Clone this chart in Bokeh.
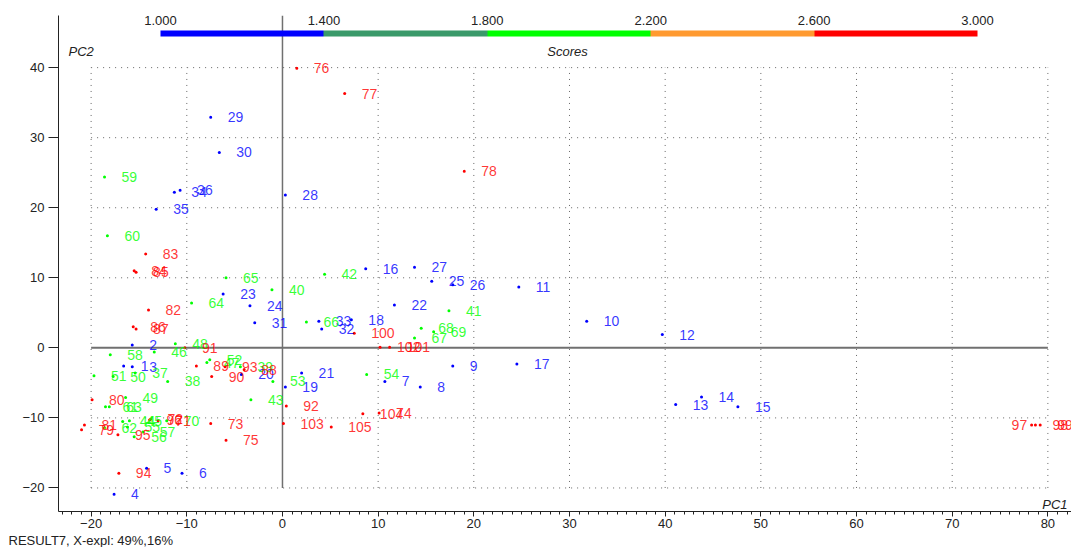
from bokeh.plotting import figure
from bokeh.models import (ColumnDataSource, LinearColorMapper, ColorBar, FixedTicker,
                          PrintfTickFormatter, Label, Title, Range1d)
from bokeh.core.properties import value
from bokeh.transform import linear_cmap
from bokeh.embed import file_html
from bokeh.resources import INLINE

# Sample numbers, PCA scores (PC1, PC2) and the response score used for colouring
ids = list(range(1, 106))
pc1 = [-16.6, -15.7, -15.7, -17.6, -14.2, -10.5, 10.7, 14.4, 17.8, 31.8,
       24.7, 39.7, 41.1, 43.8, 47.6, 8.7, 24.5, 7.2, 0.3, -4.3,
       2.0, 11.7, -6.2, -3.4, 15.6, 17.8, 13.8, 0.3, -7.5, -6.6,
       -2.9, 4.1, 3.8, -11.3, -13.2, -10.7, -15.4, -12.0, -4.4, -1.1,
       17.4, 4.4, -3.3, -16.7, -16.0, -13.4, -7.9, -11.2, -16.4, -17.7,
       -19.7, -7.6, -1.0, 8.8, -16.2, -15.5, -14.6, -18.0, -18.6, -18.3,
       -18.5, -18.6, -18.1, -9.5, -5.9, 2.5, 13.8, 14.5, 15.8, -12.1,
       -13.0, -13.8, -7.5, 10.1, -5.9, 1.5, 6.5, 19.0, -21.0, -19.9,
       -20.7, -14.0, -14.3, -15.5, -15.3, -15.6, -15.3, -4.0, -9.0, -7.4,
       -10.2, 0.4, -6.0, -17.1, -17.2, -13.9, 78.3, 78.7, 79.2, 7.5,
       11.2, 10.2, 0.1, 8.4, 5.1]
pc2 = [-2.6, 0.4, -2.7, -20.9, -17.2, -17.9, -4.8, -5.6, -2.6, 3.8,
       8.7, 1.9, -8.1, -7.0, -8.4, 11.3, -2.3, 4.0, -5.6, -3.8,
       -3.6, 6.1, 7.7, 6.0, 9.5, 9.0, 11.5, 21.8, 32.9, 27.9,
       3.6, 2.7, 3.8, 22.2, 19.8, 22.5, -3.6, -4.8, -2.7, 8.3,
       5.3, 10.5, -7.4, -10.5, -10.4, -0.6, -2.1, 0.6, -7.1, -4.1,
       -4.0, -1.7, -4.8, -3.8, -11.3, -12.7, -12.0, -1.0, 24.4, 16.0,
       -8.4, -11.4, -8.4, 6.4, 10.0, 3.7, 1.4, 2.8, 2.3, -10.4,
       -10.4, -10.2, -10.8, -9.3, -13.2, 39.9, 36.3, 25.2, -11.7, -7.4,
       -11.0, 5.4, 13.4, 11.0, 10.8, 3.0, 2.7, -3.1, -2.6, -4.1,
       0.0, -8.3, -2.7, -17.9, -12.4, -10.3, -11.0, -11.0, -11.0, 2.1,
       0.1, 0.1, -10.8, -9.4, -11.3]
scores = [1] * 36 + [2] * 34 + [3] * 35

x_major = [-20, -10, 0, 10, 20, 30, 40, 50, 60, 70, 80]
y_major = [-20, -10, 0, 10, 20, 30, 40]
score_ticks = [1.0, 1.4, 1.8, 2.2, 2.6, 3.0]
palette = ["#0000FF", "#3A9A6A", "#00FF00", "#FF9A30", "#FF0000"]

FONT = "Liberation Sans"

src = ColumnDataSource(dict(
    pc1=pc1, pc2=pc2, score=scores,
    name=[str(i) for i in ids],
    dx=[-20 if i == 97 else 17 for i in ids],
))

p = figure(width=1071, height=547, output_backend="svg", toolbar_location=None,
           x_range=Range1d(-23.41, 82.47), y_range=Range1d(-23.36, 47.44),
           min_border_left=58, min_border_right=0, min_border_top=15,
           min_border_bottom=35)
p.outline_line_color = None
p.background_fill_color = "white"
p.border_fill_color = "white"
p.xgrid.visible = False
p.ygrid.visible = False

# axes
p.xaxis.ticker = FixedTicker(ticks=x_major, minor_ticks=list(range(-23, 83)))
p.yaxis.ticker = FixedTicker(ticks=y_major, minor_ticks=[])
for ax in (p.xaxis[0], p.yaxis[0]):
    ax.axis_line_color = "#222222"
    ax.major_tick_line_color = "#222222"
    ax.minor_tick_line_color = "#222222"
    ax.major_tick_in = 0
    ax.minor_tick_in = 0
    ax.major_label_text_font = FONT
    ax.major_label_text_font_size = "13px"
    ax.major_label_text_color = "#222222"
p.xaxis.major_tick_out = 5
p.xaxis.minor_tick_out = 3
p.xaxis.major_label_standoff = 2
p.yaxis.major_tick_out = 10
p.yaxis.major_label_standoff = 4

# dotted reference grid inside the scored region
gx = [v for v in x_major if v != 0]
gy = [v for v in y_major if v != 0]
p.segment(x0=gx, y0=min(y_major), x1=gx, y1=max(y_major),
          line_color="#666666", line_dash="1 5", line_width=1)
p.segment(x0=min(x_major), y0=gy, x1=max(x_major), y1=gy,
          line_color="#666666", line_dash="1 5", line_width=1)
# origin lines
p.segment(x0=[min(x_major)], y0=[0], x1=[max(x_major)], y1=[0],
          line_color="#707070", line_width=2)
p.segment(x0=[0], y0=[min(y_major)], x1=[0], y1=[p.y_range.end],
          line_color="#707070", line_width=1.5)

cmap = linear_cmap("score", palette, low=min(score_ticks), high=max(score_ticks))
p.scatter("pc1", "pc2", source=src, size=3, color=cmap, line_width=0)
p.text("pc1", "pc2", text="name", source=src, x_offset="dx", text_baseline="middle",
       text_align="left", text_color=cmap, text_alpha=0.8,
       text_font=value(FONT), text_font_size="14px")

# colour scale at the top
mapper = LinearColorMapper(palette=palette, low=min(score_ticks), high=max(score_ticks))
cb = ColorBar(color_mapper=mapper, orientation="horizontal", width=817, height=6,
              location=(102, 475), padding=0, margin=0,
              ticker=FixedTicker(ticks=score_ticks),
              formatter=PrintfTickFormatter(format="%.3f"),
              major_tick_line_color=None, minor_tick_line_color=None,
              bar_line_color=None, background_fill_alpha=0, border_line_color=None,
              label_standoff=-21,
              major_label_text_font=FONT, major_label_text_font_size="13px",
              major_label_text_color="#222222")
p.add_layout(cb)

p.add_layout(Label(x=10, y=460, x_units="screen", y_units="screen", text="PC2",
                   text_font=FONT, text_font_size="13px", text_font_style="italic",
                   text_baseline="middle", text_color="#222222"))
p.add_layout(Label(x=509, y=460, x_units="screen", y_units="screen", text="Scores",
                   text_font=FONT, text_font_size="13px", text_font_style="italic",
                   text_baseline="middle", text_align="center", text_color="#222222"))
p.add_layout(Label(x=1009, y=7, x_units="screen", y_units="screen", text="PC1",
                   text_font=FONT, text_font_size="13px", text_font_style="italic",
                   text_baseline="middle", text_align="right", text_color="#222222"))

# result caption under the axis
p.add_layout(Title(text="RESULT7, X-expl: 49%,16%", align="left", offset=-50,
                   standoff=0, text_font=FONT, text_font_size="13px",
                   text_font_style="normal", text_color="#222222"), "below")

open("out.html", "w").write(file_html(p, INLINE))
